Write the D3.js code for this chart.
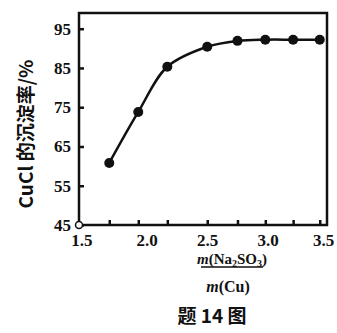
<!DOCTYPE html>
<html>
<head>
<meta charset="utf-8">
<script src="https://cdn.jsdelivr.net/npm/d3@7"></script>
<style>
  body { margin: 0; background: #fff; }
  svg { display: block; }
</style>
</head>
<body>
<div id="chart"></div>
<script>
// ratio m(Na2SO3)/m(Cu) and CuCl precipitation rate (%)
const ratios = [1.69, 1.93, 2.17, 2.5, 2.75, 2.98, 3.21, 3.43];
const rates = [60.8, 73.8, 85.3, 90.4, 91.9, 92.2, 92.2, 92.2];
const yTicks = [45, 55, 65, 75, 85, 95];
const xTicks = [1.5, 2.0, 2.5, 3.0, 3.5];

const w = 337, h = 333;
const margin = { top: 13, right: 10, bottom: 108, left: 79 };
const width = w - margin.left - margin.right;
const height = h - margin.top - margin.bottom;

const svg = d3.select('#chart').append('svg')
  .attr('width', w)
  .attr('height', h)
  .append('g')
  .attr('transform', `translate(${margin.left},${margin.top})`);

const x = d3.scaleLinear().domain([1.44, 3.49]).range([0, width]);
const y = d3.scaleLinear().domain([45, 99]).range([height, 0]);

const serif = '"Liberation Serif", "DejaVu Serif", serif';
const cjk = '"Noto Sans CJK SC", sans-serif';

// frame
svg.append('rect')
  .attr('width', width)
  .attr('height', height)
  .attr('fill', 'none')
  .attr('stroke', '#111')
  .attr('stroke-width', 2.5);

// y axis ticks (inward) and labels
const yAxis = svg.append('g')
  .call(d3.axisLeft(y).tickValues(yTicks).tickSizeInner(-5).tickSizeOuter(0).tickPadding(8).tickFormat(d3.format('d')));
yAxis.select('.domain').remove();
yAxis.selectAll('line').attr('stroke', '#111').attr('stroke-width', 2.5);
yAxis.selectAll('text')
  .attr('font-family', serif)
  .attr('font-weight', 'bold')
  .attr('font-size', 17)
  .attr('fill', '#111');

// x axis: tick marks at each measured ratio, labels at round values
const xMarks = svg.append('g')
  .attr('transform', `translate(0,${height})`)
  .call(d3.axisBottom(x).tickValues(ratios).tickSizeInner(-5).tickSizeOuter(0).tickFormat(''));
xMarks.select('.domain').remove();
xMarks.selectAll('line').attr('stroke', '#111').attr('stroke-width', 2.5);

const xAxis = svg.append('g')
  .attr('transform', `translate(0,${height})`)
  .call(d3.axisBottom(x).tickValues(xTicks).tickSize(0).tickPadding(9).tickFormat(d3.format('.1f')));
xAxis.select('.domain').remove();
xAxis.selectAll('text')
  .attr('font-family', serif)
  .attr('font-weight', 'bold')
  .attr('font-size', 17)
  .attr('fill', '#111')
  .attr('dx', d => d === 3.5 ? -5 : (d === 1.5 ? -5 : 0));

// origin circle
svg.append('circle')
  .attr('cx', 0)
  .attr('cy', height)
  .attr('r', 3.5)
  .attr('fill', '#fff')
  .attr('stroke', '#111')
  .attr('stroke-width', 1.5);

// curve
const pts = ratios.map((r, i) => [r, rates[i]]);
svg.append('path')
  .datum(pts)
  .attr('fill', 'none')
  .attr('stroke', '#111')
  .attr('stroke-width', 2.5)
  .attr('d', d3.line().x(d => x(d[0])).y(d => y(d[1])).curve(d3.curveCatmullRom.alpha(0.5)));

svg.selectAll('.pt')
  .data(pts)
  .enter()
  .append('circle')
  .attr('class', 'pt')
  .attr('cx', d => x(d[0]))
  .attr('cy', d => y(d[1]))
  .attr('r', 5)
  .attr('fill', '#111');

// y axis title
svg.append('text')
  .attr('transform', `translate(${-46},${height / 2 + 15}) rotate(-90)`)
  .attr('text-anchor', 'middle')
  .attr('font-family', cjk)
  .attr('font-weight', 'bold')
  .attr('font-size', 19)
  .attr('fill', '#111')
  .text('CuCl 的沉淀率/%');

// x axis title as a fraction
const cx = 153;
const num = svg.append('text')
  .attr('x', cx)
  .attr('y', height + 39)
  .attr('text-anchor', 'middle')
  .attr('font-family', serif)
  .attr('font-weight', 'bold')
  .attr('font-size', 15)
  .attr('fill', '#111');
num.append('tspan').attr('font-style', 'italic').text('m');
num.append('tspan').text('(Na');
num.append('tspan').attr('font-size', 10).attr('dy', 3).text('2');
num.append('tspan').attr('dy', -3).text('SO');
num.append('tspan').attr('font-size', 10).attr('dy', 3).text('3');
num.append('tspan').attr('dy', -3).text(')');

svg.append('line')
  .attr('x1', cx - 31)
  .attr('x2', cx + 31)
  .attr('y1', height + 42)
  .attr('y2', height + 42)
  .attr('stroke', '#111')
  .attr('stroke-width', 1.5);

const den = svg.append('text')
  .attr('x', cx - 4)
  .attr('y', height + 67)
  .attr('text-anchor', 'middle')
  .attr('font-family', serif)
  .attr('font-weight', 'bold')
  .attr('font-size', 16)
  .attr('fill', '#111');
den.append('tspan').attr('font-style', 'italic').text('m');
den.append('tspan').text('(Cu)');

svg.append('text')
  .attr('x', cx - 20)
  .attr('y', height + 98)
  .attr('text-anchor', 'middle')
  .attr('font-family', cjk)
  .attr('font-weight', 'bold')
  .attr('font-size', 19)
  .attr('fill', '#111')
  .text('题 14 图');
</script>
</body>
</html>
